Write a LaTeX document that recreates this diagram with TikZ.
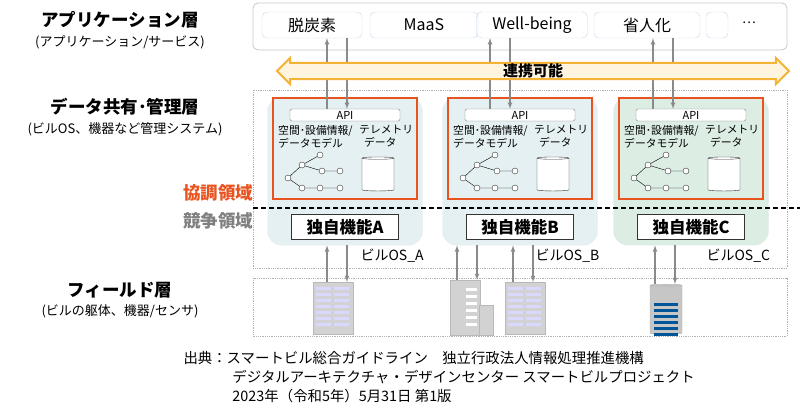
\documentclass[tikz,border=0pt]{standalone}
\usepackage{fontspec}
\setmainfont{Noto Sans CJK JP}
\usetikzlibrary{shapes.arrows,shapes.geometric,positioning}
\definecolor{coop}{HTML}{E8531F}
\definecolor{arrowor}{HTML}{F5B335}
\definecolor{arrowfill}{HTML}{FFF4DE}
\definecolor{osblue}{HTML}{E5F0F3}
\definecolor{osgreen}{HTML}{DCEDE4}
\definecolor{appline}{HTML}{C8D5E8}
\definecolor{conn}{HTML}{8A8A8A}
\tikzstyle{layertitle} = [font=\fontsize{17.5}{20}\selectfont\bfseries, anchor=center]
\tikzstyle{layersub} = [font=\fontsize{13}{15}\selectfont, anchor=center]
\tikzstyle{appbox} = [draw=appline, rounded corners=5pt, minimum height=26pt,
    font=\fontsize{16}{18}\selectfont, inner sep=0pt]
\tikzstyle{osbox} = [draw=osblue!70!gray!40, rounded corners=14pt, minimum width=155pt,
    minimum height=148pt, anchor=north]
\tikzstyle{coopbox} = [draw=coop, line width=1.6pt, minimum width=144pt,
    minimum height=101pt, anchor=north]
\tikzstyle{apibox} = [draw=gray, fill=white, rounded corners=2pt, minimum width=110pt,
    minimum height=12pt, inner sep=0pt, font=\fontsize{11}{12}\selectfont]
\tikzstyle{funcbox} = [draw=black!80, line width=1pt, fill=white, minimum width=107pt,
    minimum height=25pt, inner sep=0pt, font=\fontsize{16.5}{18}\selectfont\bfseries]
\tikzstyle{smalltxt} = [font=\fontsize{10.8}{13}\selectfont, align=left, inner sep=0pt]
\tikzstyle{layerline} = [draw=gray!60, densely dotted, line width=0.8pt]
\tikzstyle{link} = [draw=conn, line width=1.1pt, -latex]
\tikzstyle{treedot} = [circle, draw=black!80, fill=white, minimum size=6pt, inner sep=0pt]
\tikzstyle{bldg} = [fill=gray!35, draw=gray!55, inner sep=0pt]

\begin{document}
\begin{tikzpicture}[x=1pt,y=-1pt]
\useasboundingbox (0,0) rectangle (800,417);

% layer labels
\node[layertitle] (lapp) at (120,20) {アプリケーション層};
\node[layersub] (lappsub) at (120,42) {(アプリケーション/サービス)};
\node[layertitle] (ldata) at (125,107) {データ共有･管理層};
\node[layersub] (ldatasub) at (125,129) {(ビルOS、機器など管理システム)};
\node[layertitle, text=coop] (lcoop) at (218,193) {協調領域};
\node[layertitle, text=gray] (lcomp) at (218,221) {競争領域};
\node[layertitle] (lfield) at (120,290) {フィールド層};
\node[layersub] (lfieldsub) at (120,311) {(ビルの躯体、機器/センサ)};

% application layer
\draw[draw=gray!45, line width=0.8pt, rounded corners=5pt] (253,3) rectangle (787,50);
\node[appbox, minimum width=100pt] (app1) at (312,25) {脱炭素};
\node[appbox, minimum width=108pt] (app2) at (424,25) {MaaS};
\node[appbox, minimum width=111pt] (app3) at (532,25) {Well-being};
\node[appbox, minimum width=106pt] (app4) at (647,25) {省人化};
\node[appbox, minimum width=22pt] (app5) at (717,25) {};
\node[font=\fontsize{13}{14}\selectfont] (dots) at (749,23) {…};

% layer frames
\draw[layerline] (253,90) rectangle (787,268);
\draw[layerline] (253,278) rectangle (787,336);

% building OS columns
\foreach \n/\cx/\fc/\ax in {A/345/osblue/327, B/520/osblue/490, C/691/osgreen/653}{
  \pgfmathtruncatemacro\bx{\ax+20}
  \node[osbox, fill=\fc] (os\n) at (\cx,97) {};
  \node[coopbox] (coop\n) at (\cx,97) {};
  \node[apibox] (api\n) at (\cx,115) {API};
  \node[smalltxt, anchor=north west] (info\n) at (\cx-67,125) {空間･設備情報/\\データモデル};
  \node[smalltxt, anchor=north west] (tele\n) at (\cx+14,125) {テレメトリ\\\ \ データ};
  % tree
  \node[treedot] (t1\n) at (\cx-57,178) {};
  \node[treedot] (t2\n) at (\cx-43,165) {};
  \node[treedot] (t3\n) at (\cx-25,155) {};
  \node[treedot] (t4\n) at (\cx-23,171) {};
  \node[treedot] (t5\n) at (\cx-5,171) {};
  \node[treedot] (t6\n) at (\cx-43,188) {};
  \node[treedot] (t7\n) at (\cx-25,188) {};
  \node[treedot] (t8\n) at (\cx-5,188) {};
  \draw (t1\n) -- (t2\n) -- (t3\n) (t2\n) -- (t4\n) -- (t5\n)
        (t1\n) -- (t6\n) -- (t7\n) -- (t8\n);
  \node[cylinder, shape border rotate=90, draw=black!80, fill=white, aspect=0.35,
        minimum width=32pt, minimum height=34pt] (db\n) at (\cx+33,175) {};
  \node[funcbox] (func\n) at (\cx,227) {独自機能\n};
  \node[font=\fontsize{14}{16}\selectfont, anchor=west] (name\n) at (\cx+12,256) {ビルOS\_\n};
  % links to applications
  \draw[link] (api\n.north -| \ax,0) -- (app1.south -| \ax,0);
  \draw[link] (app1.south -| \bx,0) -- (api\n.north -| \bx,0);
}

% dashed border between cooperation and competition
\draw[line width=1.2pt, dash pattern=on 5pt off 3pt] (253,208) -- (800,208);

% cooperation arrow
\node[double arrow, draw=arrowor, fill=arrowfill, line width=2pt,
      minimum width=19pt, minimum height=512pt, double arrow head extend=5pt,
      inner sep=0pt, font=\fontsize{15}{17}\selectfont\bfseries] (coarrow) at (533,71) {連携可能};

% buildings
\node[bldg, minimum width=40pt, minimum height=52pt, anchor=north] (bA) at (333,282) {};
\node[bldg, minimum width=30pt, minimum height=55pt, anchor=north] (bB1) at (465,280) {};
\node[bldg, minimum width=14pt, minimum height=30pt, anchor=north] (bB1w) at (486,305) {};
\node[bldg, minimum width=40pt, minimum height=52pt, anchor=north] (bB2) at (525,282) {};
\node[cylinder, shape border rotate=90, aspect=0.3, fill=gray!45, draw=gray!60,
      minimum width=32pt, minimum height=50pt, anchor=north] (bC) at (666,284) {};
\foreach \b in {bA,bB2}{
  \foreach \r in {0,...,6}{
    \fill[blue!15] ([xshift=3pt,yshift=-5pt-6*\r pt]\b.north west) rectangle +(15pt,-3pt);
    \fill[blue!15] ([xshift=21pt,yshift=-5pt-6*\r pt]\b.north west) rectangle +(15pt,-3pt);
  }
}
\foreach \r in {0,...,5}{
  \fill[white] ([xshift=16pt,yshift=-8pt-7*\r pt]bB1.north west) rectangle +(11pt,-3pt);
  \fill[blue!45!cyan!60!black] ([xshift=4pt,yshift=-9pt-6*\r pt]bC.north west) rectangle +(24pt,-3pt);
}

% links to field
\draw[link] (bA.north -| 327,0) -- (osA.south -| 327,0);
\draw[link] (osA.south -| 347,0) -- (bA.north -| 347,0);
\draw[link] (bB1.north -| 457,0) -- (osB.south -| 457,0);
\draw[link] (osB.south -| 477,0) -- (bB1.north -| 477,0);
\draw[link] (bB2.north -| 513,0) -- (osB.south -| 513,0);
\draw[link] (osB.south -| 533,0) -- (bB2.north -| 533,0);
\draw[link] (bC.north -| 655,0) -- (osC.south -| 655,0);
\draw[link] (osC.south -| 675,0) -- (bC.north -| 675,0);

% source
\node[font=\fontsize{14.4}{19}\selectfont, align=left, anchor=north west] (src) at (180,348)
  {出典：スマートビル総合ガイドライン\quad 独立行政法人情報処理推進機構\\
   \hspace*{3.4em}デジタルアーキテクチャ・デザインセンター スマートビルプロジェクト\\
   \hspace*{3.4em}2023年（令和5年）5月31日 第1版};

\end{tikzpicture}
\end{document}
